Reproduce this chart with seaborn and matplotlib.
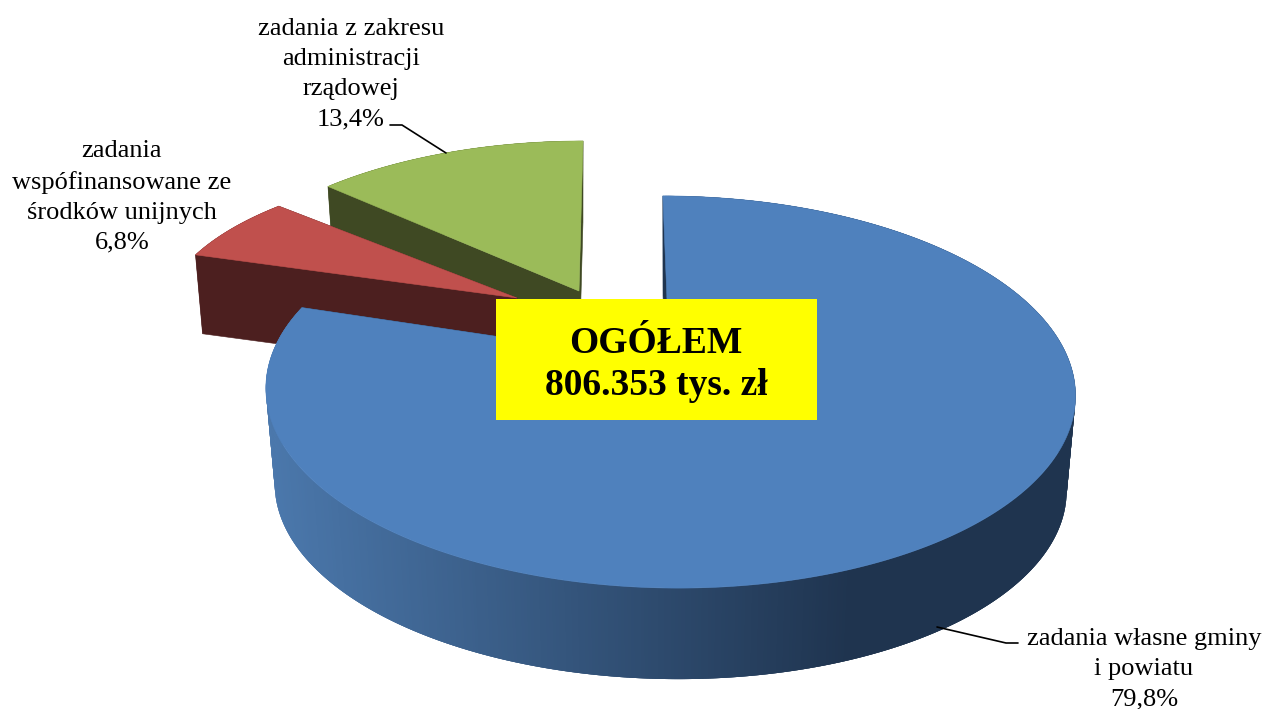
import numpy as np
import matplotlib
matplotlib.use("Agg")
import matplotlib.pyplot as plt
import seaborn as sns

categories = ["zadania własne gminy\ni powiatu",
              "zadania\nwspófinansowane ze\nśrodków unijnych",
              "zadania z zakresu\nadministracji\nrządowej"]
shares = [79.8, 6.8, 13.4]
share_labels = ["79,8%", "6,8%", "13,4%"]
total_text = "OGÓŁEM\n806.353 tys. zł"

top_colors = ["#4F81BD", "#C0504D", "#9BBB59"]
side_colors = ["#1F344F", "#4C1F1F", "#3F4923"]
gradient_ends = ["#4B78AC", "#1F344F"]

# apex x, apex y, radius x, radius y, shear, wall height
geometry = [(669.5, 362, 400, 191.5, 0.04, 96),
            (517, 298, 352, 152, 0.0, 78),
            (579, 291, 375, 173, -0.027, 78)]
persp = 0.153
bottom_scale = 0.978

sns.set_theme(style="white")
plt.rcParams["font.family"] = ["Liberation Serif", "DejaVu Serif"]

fig, ax = plt.subplots(figsize=(12.68, 7.09), dpi=100)
fig.subplots_adjust(0, 0, 1, 1)
ax.set_xlim(0, 1268)
ax.set_ylim(709, 0)
ax.axis("off")


def project(theta, geo, lower=False):
    ax0, ay0, rx, ry, shear, h = geo
    den = 1 + persp * np.cos(theta)
    dx = rx * np.sin(theta) / den
    dy = -ry * np.cos(theta) / den
    dx = dx + shear * dy
    if lower:
        return ax0 + bottom_scale * dx, ay0 + h + bottom_scale * dy
    return ax0 + dx, ay0 + dy


edges = np.concatenate([[0], np.cumsum(shares)]) / 100 * 2 * np.pi
layer = {2: 2, 1: 12, 0: 22}
ramp = sns.blend_palette(gradient_ends, n_colors=256)

for i in [2, 1, 0]:
    geo = geometry[i]
    t = np.linspace(edges[i], edges[i + 1], 700 if i == 0 else 120)
    xt, yt = project(t, geo)
    xb, yb = project(t, geo, lower=True)
    z = layer[i]
    ax0, ay0, h = geo[0], geo[1], geo[5]
    # curved outer wall: overlapping strips so that no seams show
    for j in range(len(t) - 1):
        n = min(j + 3, len(t) - 1)
        if i == 0:
            mid = (xt[j] + xt[j + 1]) / 2
            frac = np.clip((mid - 265) / (850 - 265), 0, 1)
            col = ramp[int(frac * 255)]
        else:
            col = side_colors[i]
        ax.fill(np.r_[xt[j:n + 1], xb[j:n + 1][::-1]],
                np.r_[yt[j:n + 1], yb[j:n + 1][::-1]],
                color=col, lw=0, zorder=z)
    # the two cut faces
    for k in (0, -1):
        ax.fill([xt[k], xb[k], ax0, ax0], [yt[k], yb[k], ay0 + h, ay0],
                color=side_colors[i], lw=0.4, zorder=z + 1)
    # top surface
    ax.fill(np.r_[ax0, xt], np.r_[ay0, yt], color=top_colors[i], lw=0.4, zorder=z + 2)

# yellow total box
ax.fill([496, 817, 817, 496], [299, 299, 420, 420], color="#FFFF00", lw=0, zorder=40)
ax.text(656, 364.5, total_text, ha="center", va="center", fontsize=27, fontweight="bold",
        color="black", linespacing=1.25, zorder=41)

# labels
label_pos = [(1144, 669), (122, 197), (351, 74)]
for (x, y), c, s in zip(label_pos, categories, share_labels):
    ax.text(x, y, c + "\n" + s, ha="center", va="center", fontsize=19,
            color="black", linespacing=1.47, zorder=41)

# leader lines
ax.plot([390, 402, 446], [125, 125, 153], color="black", lw=1.2, zorder=41)
ax.plot([1018, 1006, 937], [643, 643, 627], color="black", lw=1.2, zorder=41)

fig.savefig("out.png", dpi=100)
